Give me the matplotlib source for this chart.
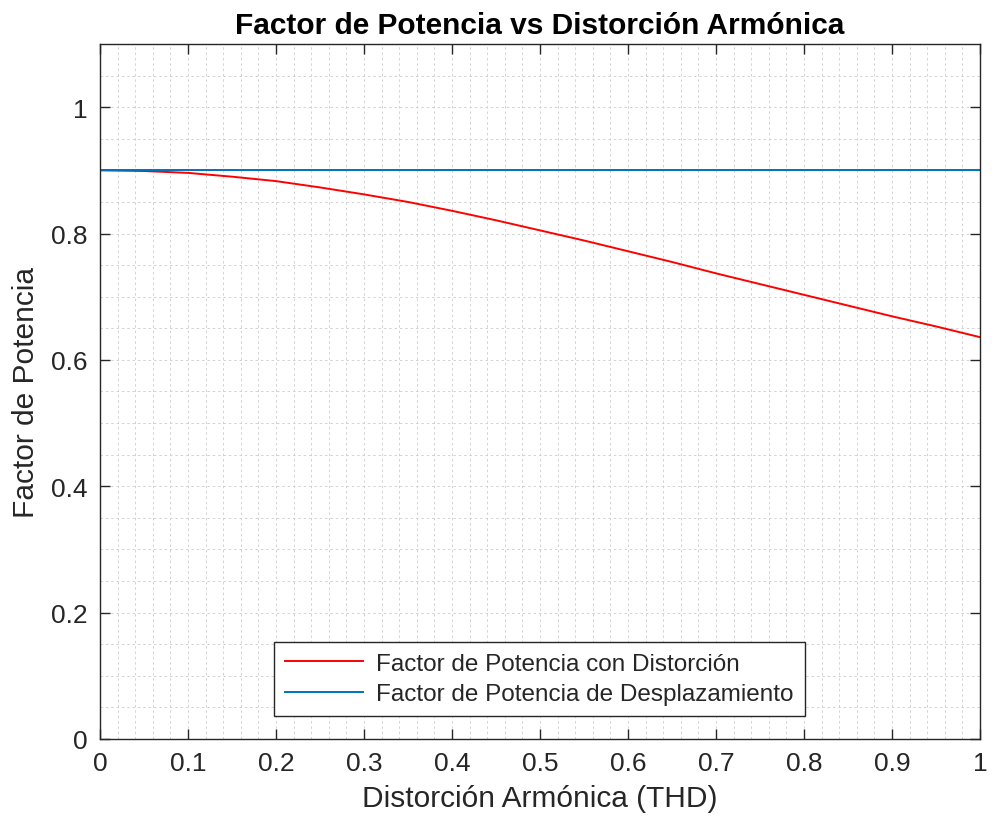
import matplotlib
matplotlib.use("Agg")
import matplotlib.pyplot as plt
from matplotlib.ticker import MultipleLocator
import numpy as np

plt.rcParams['font.family'] = ['Liberation Sans', 'DejaVu Sans']

# THD values and power factor
thd = [0.0, 0.05, 0.1, 0.15, 0.2, 0.25, 0.3, 0.35, 0.4, 0.45, 0.5,
       0.55, 0.6, 0.65, 0.7, 0.75, 0.8, 0.85, 0.9, 0.95, 1.0]
fp_dist = [0.900, 0.899, 0.896, 0.890, 0.883, 0.873, 0.862, 0.850, 0.836, 0.821, 0.805,
           0.789, 0.772, 0.755, 0.737, 0.720, 0.703, 0.686, 0.669, 0.653, 0.636]
fp_desp = [0.9] * len(thd)

xticks = [0, 0.1, 0.2, 0.3, 0.4, 0.5, 0.6, 0.7, 0.8, 0.9, 1]
xlabels = ["0", "0.1", "0.2", "0.3", "0.4", "0.5", "0.6", "0.7", "0.8", "0.9", "1"]
yticks = [0, 0.2, 0.4, 0.6, 0.8, 1]
ylabels = ["0", "0.2", "0.4", "0.6", "0.8", "1"]

fig = plt.figure(figsize=(9.92, 8.29), dpi=100)
ax = fig.add_axes([0.1008, 0.1074, 0.8871, 0.8383])

dark = "#262626"

ax.plot(thd, fp_dist, color="#FF0000", lw=1.4, label="Factor de Potencia con Distorción")
ax.plot(thd, fp_desp, color="#0072BD", lw=1.4, label="Factor de Potencia de Desplazamiento")

ax.set_xlim(0, 1)
ax.set_ylim(0, 1.1)
ax.set_xticks(xticks)
ax.set_xticklabels(xlabels)
ax.set_yticks(yticks)
ax.set_yticklabels(ylabels)
ax.xaxis.set_minor_locator(MultipleLocator(0.02))
ax.yaxis.set_minor_locator(MultipleLocator(0.05))
ax.grid(which="both", color="#d2d2d2", linestyle=(0, (2.5, 3)), lw=0.7)
ax.set_axisbelow(True)

ax.tick_params(which="major", direction="in", length=7, width=1, colors=dark,
               labelsize=19, top=True, right=True, pad=9)
ax.tick_params(which="minor", length=0, top=True, right=True)
for s in ax.spines.values():
    s.set_color(dark)
    s.set_linewidth(1)

ax.set_xlabel("Distorción Armónica (THD)", fontsize=21.5, color=dark, labelpad=6)
ax.set_ylabel("Factor de Potencia", fontsize=21.5, color=dark, labelpad=8)
ax.set_title("Factor de Potencia vs Distorción Armónica", fontsize=21.5,
             fontweight="bold", pad=8)

leg = ax.legend(loc="lower center", bbox_to_anchor=(0.4994, 0.033), borderaxespad=0,
                fontsize=17.5, frameon=True, fancybox=False, handlelength=3.2,
                labelspacing=0.35, borderpad=0.45, handletextpad=0.55)
leg.get_frame().set_edgecolor(dark)
leg.get_frame().set_linewidth(1)
leg.get_frame().set_alpha(1)
for t in leg.get_texts():
    t.set_color(dark)

fig.savefig("out.png", dpi=100, facecolor="white")
